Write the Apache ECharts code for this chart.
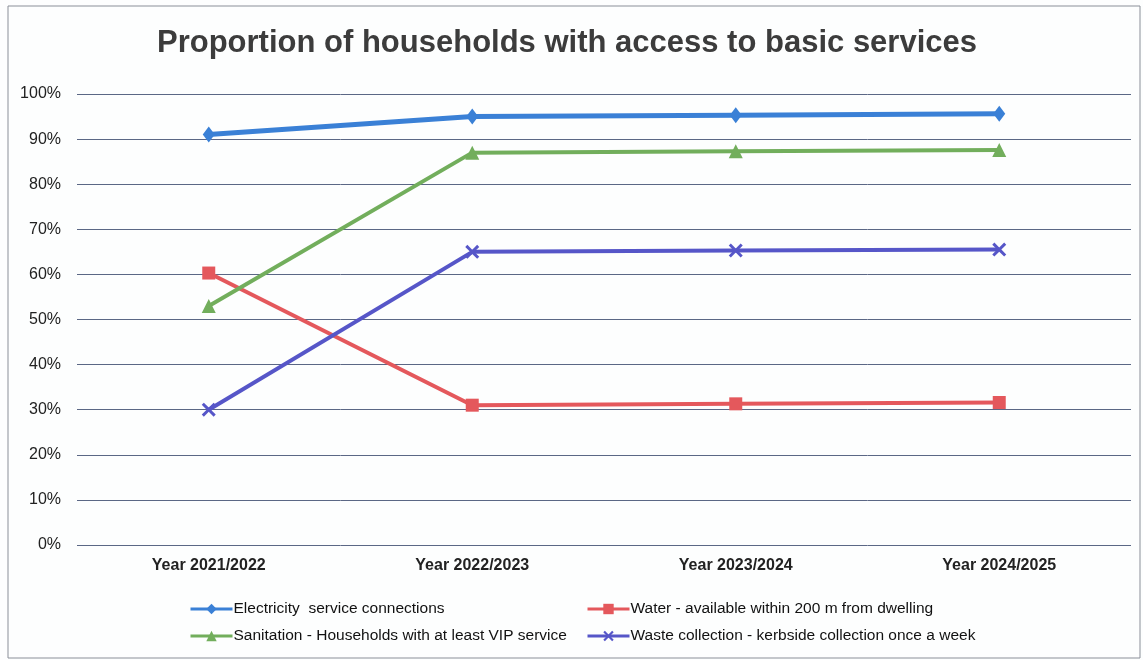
<!DOCTYPE html>
<html><head><meta charset="utf-8">
<script src="https://cdn.jsdelivr.net/npm/echarts@6/dist/echarts.min.js"></script>
<style>html,body{margin:0;padding:0;background:#fff}#c{width:1143px;height:660px}</style>
</head><body><div id="c"></div>
<script>
const categories = ['Year 2021/2022', 'Year 2022/2023', 'Year 2023/2024', 'Year 2024/2025'];
const electricity = [91, 95, 95.3, 95.6];
const water = [60.3, 31, 31.3, 31.6];
const sanitation = [53, 87, 87.3, 87.6];
const waste = [30, 65, 65.3, 65.5];
const yTicks = [0, 10, 20, 30, 40, 50, 60, 70, 80, 90, 100];

const names = {
  e: 'Electricity  service connections',
  w: 'Water - available within 200 m from dwelling',
  s: 'Sanitation - Households with at least VIP service',
  k: 'Waste collection - kerbside collection once a week'
};
const xPath = 'path://M0,1.5 L1.5,0 L5,3.5 L8.5,0 L10,1.5 L6.5,5 L10,8.5 L8.5,10 L5,6.5 L1.5,10 L0,8.5 L3.5,5 Z';
const font = 'Liberation Sans, Arial, sans-serif';

const chart = echarts.init(document.getElementById('c'), null, {renderer: 'canvas'});
const legendBase = {orient: 'vertical', top: 596, itemGap: 11, itemWidth: 42, itemHeight: 13,
  lineStyle: {width: 3},
  textStyle: {fontFamily: font, fontSize: 15.5, color: '#111', padding: [0, 0, 0, -4]}};
chart.setOption({
  backgroundColor: '#fdfefe',
  animation: false,
  title: {
    text: 'Proportion of households with access to basic services',
    left: 562, top: 23, textAlign: 'center',
    textStyle: {fontFamily: font, fontSize: 31, fontWeight: 'bold', color: '#3c3c3c'}
  },
  graphic: [{type: 'rect', shape: {x: 8, y: 6, width: 1132, height: 652},
    style: {fill: 'none', stroke: '#8a8f98', lineWidth: 1}, silent: true}],
  grid: {left: 77, right: 12, top: 94, bottom: 115, containLabel: false},
  xAxis: {
    type: 'category', data: categories, boundaryGap: true,
    axisLine: {show: false}, axisTick: {show: false},
    axisLabel: {fontFamily: font, fontSize: 16, fontWeight: 'bold', color: '#222', margin: 13}
  },
  yAxis: {
    type: 'value', min: 0, max: 100, interval: 10,
    axisLine: {show: false}, axisTick: {show: false},
    axisLabel: {fontFamily: font, fontSize: 16, color: '#222', margin: 16,
      formatter: v => yTicks.includes(v) ? v + '%' : ''},
    splitLine: {lineStyle: {color: '#5b6785', width: 1}}
  },
  legend: [
    Object.assign({}, legendBase, {left: 184, data: [names.e, names.s]}),
    Object.assign({}, legendBase, {left: 581, data: [names.w, names.k]})
  ],
  series: [
    {name: names.e, type: 'line', data: electricity, symbol: 'diamond', symbolSize: [12, 16],
      lineStyle: {color: '#3a80d6', width: 5}, itemStyle: {color: '#3a80d6'}},
    {name: names.w, type: 'line', data: water, symbol: 'rect', symbolSize: 13,
      lineStyle: {color: '#e4585c', width: 4}, itemStyle: {color: '#e4585c'}},
    {name: names.s, type: 'line', data: sanitation, symbol: 'triangle', symbolSize: 14,
      lineStyle: {color: '#72ae5c', width: 4}, itemStyle: {color: '#72ae5c'}},
    {name: names.k, type: 'line', data: waste, symbol: xPath, symbolSize: 14,
      lineStyle: {color: '#5656c8', width: 4}, itemStyle: {color: '#5656c8'}}
  ]
});
</script></body></html>
